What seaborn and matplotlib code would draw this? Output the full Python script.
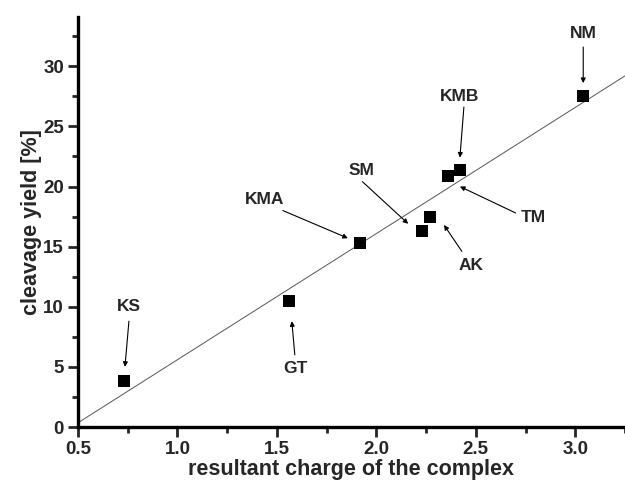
import matplotlib
matplotlib.use("Agg")
import matplotlib.pyplot as plt
import matplotlib.ticker as mticker
import pandas as pd
import seaborn as sns

# values
complexes = ["KS", "GT", "KMA", "SM", "AK", "TM", "KMB", "NM"]
charge = [0.73, 1.56, 1.917, 2.23, 2.27, 2.36, 2.42, 3.04]
cleavage = [3.8, 10.5, 15.3, 16.3, 17.45, 20.9, 21.4, 27.5]

# linear fit as drawn in the figure (end points)
fit_x = [0.5, 3.25]
fit_y = [0.35, 29.2]

# label placement: text centre, arrow start, arrow tip (data coords)
label_text = [(0.756, 10.0), (1.595, 4.9), (1.44, 18.95), (1.927, 21.3),
              (2.475, 13.4), (2.79, 17.4), (2.42, 27.5), (3.04, 32.75)]
arrow_from = [(0.756, 8.8), (1.59, 6.0), (1.53, 18.0), (1.93, 20.4),
              (2.43, 14.6), (2.70, 17.8), (2.44, 26.6), (3.04, 31.6)]
arrow_to = [(0.736, 5.0), (1.575, 8.8), (1.857, 15.7), (2.16, 16.9),
            (2.34, 16.8), (2.42, 20.0), (2.42, 22.4), (3.04, 28.6)]

sns.set_theme(style="ticks")
plt.rcParams["font.family"] = ["Liberation Sans", "DejaVu Sans"]
plt.rcParams["font.weight"] = "bold"

df = pd.DataFrame({"complex": complexes, "charge": charge, "cleavage": cleavage})

fig = plt.figure(figsize=(6.25, 4.87), dpi=100)
ax = fig.add_axes([0.1248, 0.1232, 0.8752, 0.842])

ax.plot(fit_x, fit_y, color="#555555", lw=0.7, zorder=1)
sns.scatterplot(data=df, x="charge", y="cleavage", marker="s", s=85,
                color="black", edgecolor="black", linewidth=0, ax=ax, zorder=3)

for name, txt, start, tip in zip(complexes, label_text, arrow_from, arrow_to):
    ax.text(txt[0], txt[1], name, ha="center", va="center",
            fontsize=12.5, fontweight="bold")
    ax.annotate("", xy=tip, xytext=start,
                arrowprops=dict(arrowstyle="-|>", color="black", lw=0.8,
                                mutation_scale=7, shrinkA=0, shrinkB=0))

ax.set_xlim(0.5, 3.25)
ax.set_ylim(0, 34.1)
ax.xaxis.set_major_locator(mticker.MultipleLocator(0.5))
ax.xaxis.set_minor_locator(mticker.MultipleLocator(0.25))
ax.yaxis.set_major_locator(mticker.MultipleLocator(5))
ax.yaxis.set_minor_locator(mticker.MultipleLocator(2.5))
ax.xaxis.set_major_formatter(mticker.FormatStrFormatter("%.1f"))

ax.tick_params(which="major", direction="out", length=7, width=2,
               labelsize=13.5, pad=3)
ax.tick_params(which="minor", direction="out", length=4, width=2)
for lbl in ax.get_xticklabels() + ax.get_yticklabels():
    lbl.set_fontweight("bold")

for side in ["top", "right"]:
    ax.spines[side].set_visible(False)
for side in ["left", "bottom"]:
    ax.spines[side].set_linewidth(2.4)
    ax.spines[side].set_color("black")

ax.set_xlabel("resultant charge of the complex", fontsize=15.5,
              fontweight="bold", labelpad=1)
ax.set_ylabel("cleavage yield [%]", fontsize=15.5, fontweight="bold",
              labelpad=1)

fig.savefig("out.png", dpi=100)
plt.close(fig)
